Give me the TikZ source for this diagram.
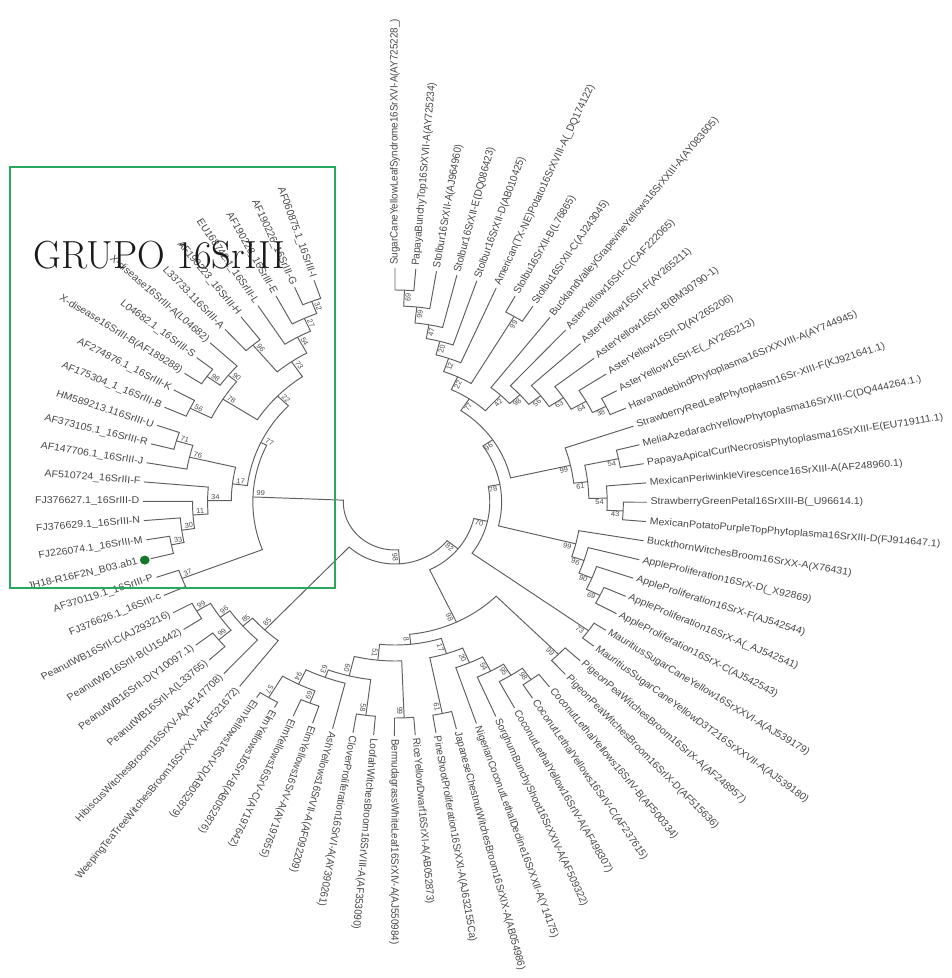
\documentclass[tikz,border=0pt]{standalone}
\usepackage{fontspec}
\setsansfont{Liberation Sans}
\definecolor{boxgreen}{RGB}{40,168,96}
\definecolor{dotgreen}{RGB}{20,120,40}
\definecolor{treegray}{RGB}{95,95,95}

% internal node: name, bootstrap, radius, first child angle/radius, second child angle/radius
\newcommand{\clade}[7]{%
  \pgfmathsetmacro{\nodeang}{(#4+#6)/2}
  \coordinate (#1) at (\nodeang:#3);
  \draw[branch] (#4:#5) -- (#4:#3) -- plot[domain=#4:#6, samples=25, variable=\t] (\t:#3) -- (#6:#7);
  \ifdim\nodeang pt>-125pt
    \node[boot, rotate=\nodeang, anchor=north east] (#1v) at (\nodeang:{#3-2}) {#2};
  \else
    \node[boot, rotate=\nodeang+180, anchor=south west] (#1v) at (\nodeang:{#3-2}) {#2};
  \fi}

\begin{document}
\begin{tikzpicture}[x=0.02cm, y=0.02cm, xscale=1.077, transform shape,
  branch/.style={treegray, line width=0.55pt},
  leaf/.style={font=\sffamily\fontsize{5.6}{6}\selectfont, text=black!72, inner sep=0.6pt},
  boot/.style={font=\sffamily\fontsize{4}{4}\selectfont, text=black!70, inner sep=0.5pt},
  title/.style={font=\rmfamily\fontsize{20.3}{22}\selectfont, text=black!90, inner sep=0pt},
  sampledot/.style={circle, fill=dotgreen, inner sep=0pt, minimum size=0.18cm}]
  \useasboundingbox (-366.76,-476) rectangle (516.25,502);

  % leaves, clockwise from the top
  \foreach \name [count=\i] in {
    SugarCaneYellowLeafSyndrome16SrXVI-A(AY725228\_),
    PapayaBunchyTop16SrXVII-A(AY725234),
    Stolbur16SrXII-A(AJ964960),
    Stolbur16SrXII-E(DQ086423),
    Stolbur16SrXII-D(AB010425),
    American(TX-NE)Potato16SrXVIII-A(\_DQ174122),
    Stolbu16SrXII-B(L76865),
    Stolbu16SrXII-C(AJ243045),
    BucklandValleyGrapevineYellows16SrXXIII-A(AY083605),
    AsterYellow16SrI-C(CAF222065),
    AsterYellow16SrI-F(AY265211),
    AsterYellow16SrI-B(BM30790-1),
    AsterYellow16SrI-D(AY265206),
    AsterYellow16SrI-E(\_AY265213),
    HavanadebindPhytoplasma16SrXXVIII-A(AY744945),
    StrawberryRedLeafPhytoplasm16Sr-XIII-F(KJ921641.1),
    MeliaAzedarachYellowPhytoplasma16SrXIII-C(DQ444264.1.),
    PapayaApicalCurlNecrosisPhytoplasma16SrXIII-E(EU719111.1),
    MexicanPeriwinkleVirescence16SrXIII-A(AF248960.1),
    StrawberryGreenPetal16SrXIII-B(\_U96614.1),
    MexicanPotatoPurpleTopPhytoplasma16SrXIII-D(FJ914647.1),
    BuckthornWitchesBroom16SrXX-A(X76431),
    AppleProliferation16SrX-D(\_X92869),
    AppleProliferation16SrX-F(AJ542544),
    AppleProliferation16SrX-A(\_AJ542541),
    AppleProliferation16SrX-C(AJ542543),
    MauritiusSugarCaneYellow16SrXXVI-A(AJ539179),
    MauritiusSugarCaneYellowD3T216SrXXVII-A(AJ539180),
    PigeonPeaWitchesBroom16SrIX-A(AF248957),
    PigeonPeaWitchesBroom16SrIX-D(AF515636),
    CoconutLethalYellows16SrIV-B(AF500334),
    CoconutLethalYellows16SrIV-C(AF237615),
    CoconutLethalYellow16SrIV-A(AF498307),
    SorghumBunchyShoot16SrXXIV-A(AF509322),
    NigerianCoconutLethalDecline16SrXXII-A(Y14175),
    JapaneseChestnutWitchesBroom16SrXIX-A(AB054986),
    PineShootProliferation16SrXXI-A(AJ632155Ca),
    RiceYellowDwarf16SrXI-A(AB052873),
    BermudagrassWhiteLeaf16SrXIV-A(AJ550984),
    LoofahWitchesBroom16SrVIII-A(AF353090),
    CloverProliferation16SrVI-A(AY390261),
    AshYellows16SrVII-A(AF092209),
    ElmYellows16SrV-A(AY197655),
    ElmYellows16SrV-C(AY197642),
    ElmYellows16SrV-B(AB052876),
    ElmYellows16SrV-D(AB052879),
    WeepingTeaTreeWitchesBroom16SrXXV-A(AF521672),
    HibiscusWitchesBroom16SrXV-A(AF147708),
    PeanutWB16SrII-A(L33765),
    PeanutWB16SrII-D(Y10097.1),
    PeanutWB16SrII-B(U15442),
    PeanutWB16SrII-C(AJ293216),
    FJ376626.1\_16SrII-c,
    AF370119.1\_16SrIII-P,
    JH18-R16F2N\_B03.ab1,
    FJ226074.1\_16SrIII-M,
    FJ376629.1\_16SrIII-N,
    FJ376627.1\_16SrIII-D,
    AF510724\_16SrIII-F,
    AF147706.1\_16SrIII-J,
    AF373105.1\_16SrIII-R,
    HM589213.116SrIII-U,
    AF175304\_1\_16SrIII-B,
    AF274876.1\_16SrIII-K,
    X-disease16SrIII-B(AF189288),
    L04682.1\_16SrIII-S,
    X-disease16SrIII-A(L04682),
    L33733.116SrIII-A,
    AF190223\_16SrIII-H,
    EU168742.1\_16SrIII-L,
    AF190228\_16SrIII-E,
    AF190226\_16SrIII-G,
    AF060875.1\_16SrIII-I} {
    \pgfmathsetmacro{\ang}{90-4.74*(\i-1)}
    \pgfmathsetmacro{\rl}{ifthenelse(\i==55,245,236)}
    \ifdim\ang pt>-125pt
      \node[leaf, rotate=\ang, anchor=west] (l\i) at (\ang:\rl) {\name};
    \else
      \node[leaf, rotate=\ang+180, anchor=east] (l\i) at (\ang:\rl) {\name};
    \fi
  }
  \node[sampledot] (jhdot) at ({90-4.74*54}:239.5) {};

  % 16SrXII, 16SrI and neighbours
  \clade{n69}{69}{212}{90}{234}{85.26}{234}
  \clade{n99a}{99}{196}{87.63}{212}{80.52}{234}
  \clade{n47}{47}{180}{84.08}{196}{75.78}{234}
  \clade{n20}{20}{166}{79.93}{180}{71.04}{234}
  \clade{n12}{12}{152}{75.48}{166}{66.30}{234}
  \clade{n99b}{99}{216}{61.56}{234}{56.82}{234}
  \clade{n22}{22}{138}{70.89}{152}{59.19}{216}
  \clade{n38}{38}{218}{28.38}{234}{23.64}{234}
  \clade{n64}{64}{204}{33.12}{234}{26.01}{218}
  \clade{n63}{63}{188}{37.86}{234}{29.57}{204}
  \clade{n56}{56}{172}{42.60}{234}{33.71}{188}
  \clade{n98a}{98}{158}{47.34}{234}{38.16}{172}
  \clade{n42}{42}{145}{52.08}{234}{42.75}{158}
  \clade{n77}{77}{124}{65.04}{138}{47.41}{145}
  % 16SrXIII
  \clade{n43}{43}{212}{-0.06}{234}{-4.80}{234}
  \clade{n54b}{54}{197}{4.68}{234}{-2.43}{212}
  \clade{n54a}{54}{212}{14.16}{234}{9.42}{234}
  \clade{n61}{61}{180}{11.79}{212}{1.13}{197}
  \clade{n99c}{99}{167}{18.90}{234}{6.46}{180}
  \clade{n96}{96}{110}{56.23}{124}{12.68}{167}
  % 16SrX, 16SrXX
  \clade{n69b}{69}{212}{-23.76}{234}{-28.50}{234}
  \clade{n90}{90}{198}{-19.02}{234}{-26.13}{212}
  \clade{n96b}{96}{185}{-14.28}{234}{-22.58}{198}
  \clade{n99d}{99}{173}{-9.54}{234}{-18.43}{185}
  \clade{n78}{78}{99}{34.46}{110}{-13.99}{173}
  \clade{n73}{73}{221}{-33.24}{234}{-37.98}{234}
  \clade{n70}{70}{88}{10.24}{99}{-35.61}{221}
  % 16SrIX, 16SrIV and the lower clades
  \clade{n99pg}{99}{215}{-42.72}{234}{-47.46}{234}
  \clade{n98c}{98}{218}{-52.20}{234}{-56.94}{234}
  \clade{n95}{95}{204}{-54.57}{218}{-61.68}{234}
  \clade{n54c}{54}{191}{-58.13}{204}{-66.42}{234}
  \clade{n20c}{20}{175}{-62.28}{191}{-71.16}{234}
  \clade{n61c}{61}{216}{-75.90}{234}{-80.64}{234}
  \clade{n17}{17}{159}{-66.72}{175}{-78.27}{216}
  \clade{n99r}{99}{216}{-85.38}{234}{-90.12}{234}
  \clade{n58}{58}{215}{-94.86}{234}{-99.60}{234}
  \clade{n69e}{69}{216}{-109.08}{234}{-113.82}{234}
  \clade{n57}{57}{228}{-118.56}{234}{-123.30}{234}
  \clade{n94}{94}{203}{-111.45}{216}{-120.93}{228}
  \clade{n63b}{63}{187}{-104.34}{234}{-116.19}{203}
  \clade{n60}{60}{179}{-97.23}{215}{-110.27}{187}
  \clade{n51}{51}{159}{-87.75}{216}{-103.75}{179}
  \clade{n8}{8}{143}{-72.50}{159}{-95.75}{159}
  \clade{n98b}{98}{133}{-45.09}{215}{-84.13}{143}
  \clade{n82}{82}{75}{-12.69}{88}{-64.61}{133}
  % 16SrII
  \clade{n99p2}{99}{214}{-137.52}{234}{-142.26}{234}
  \clade{n99p1}{99}{214}{-147.00}{234}{-151.74}{234}
  \clade{n96p}{96}{199}{-139.89}{214}{-149.37}{214}
  \clade{n85b}{85}{188}{-132.78}{234}{-144.63}{199}
  \clade{n85a}{85}{176}{-128.04}{234}{-138.71}{188}
  \clade{n98}{98}{62}{-38.65}{75}{-133.38}{176}
  % 16SrIII
  \clade{n37}{37}{212}{-156.48}{234}{-161.22}{234}
  \clade{n33}{33}{212}{-165.96}{234}{-170.70}{234}
  \clade{n30}{30}{200}{-168.33}{212}{-175.44}{234}
  \clade{n11}{11}{188}{-171.89}{200}{-180.18}{234}
  \clade{n34}{34}{174}{-176.04}{188}{-184.92}{234}
  \clade{n71}{71}{212}{-194.40}{234}{-199.14}{234}
  \clade{n76}{76}{196}{-189.66}{234}{-196.77}{212}
  \clade{n17b}{17}{152}{-180.48}{174}{-193.22}{196}
  \clade{n56b}{56}{212}{-203.88}{234}{-208.62}{234}
  \clade{n96x}{98}{215}{-213.36}{234}{-218.10}{234}
  \clade{n90b}{90}{200}{-215.73}{215}{-222.84}{234}
  \clade{n78b}{78}{190}{-206.25}{212}{-219.29}{200}
  \clade{n32}{32}{215}{-246.54}{234}{-251.28}{234}
  \clade{n27}{27}{202}{-241.80}{234}{-248.91}{215}
  \clade{n54u}{54}{188}{-237.06}{234}{-245.36}{202}
  \clade{n96u}{96}{205}{-227.58}{234}{-232.32}{234}
  \clade{n73u}{73}{170}{-229.95}{205}{-241.21}{188}
  \clade{n22u}{22}{152}{-212.77}{190}{-235.58}{170}
  \clade{n77u}{77}{138}{-186.85}{152}{-224.18}{152}
  \clade{n99g}{99}{132}{-158.85}{212}{-205.52}{138}
  % root
  \clade{root}{}{48}{-182.19}{132}{-86.02}{62}

  % group frame and title
  \draw[boxgreen, line width=1.3pt] (-357.5,335) rectangle (-55.7,-86);
  \node[title, anchor=base west] (grupo) at (-336,234) {\scalebox{1}[1.1]{GRUPO \oldstylenums{16}SrIII}};
\end{tikzpicture}
\end{document}
